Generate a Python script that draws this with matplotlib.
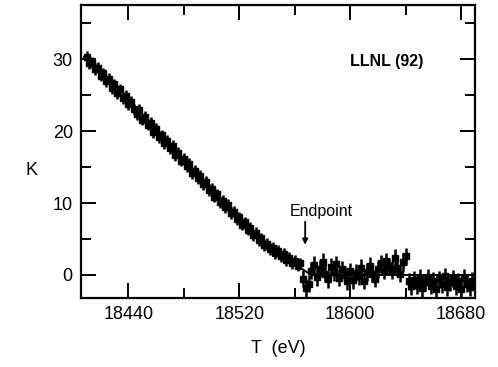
import matplotlib.pyplot as plt
from matplotlib.ticker import FixedLocator

plt.rcParams['font.family'] = ['Liberation Sans', 'DejaVu Sans']

# measured points below the endpoint (T in eV, 2 eV steps)
t_slope = [18410, 18412, 18414, 18416, 18418, 18420, 18422, 18424, 18426, 18428,
           18430, 18432, 18434, 18436, 18438, 18440, 18442, 18444, 18446, 18448,
           18450, 18452, 18454, 18456, 18458, 18460, 18462, 18464, 18466, 18468,
           18470, 18472, 18474, 18476, 18478, 18480, 18482, 18484, 18486, 18488,
           18490, 18492, 18494, 18496, 18498, 18500, 18502, 18504, 18506, 18508,
           18510, 18512, 18514, 18516, 18518, 18520, 18522, 18524, 18526, 18528,
           18530, 18532, 18534, 18536, 18538, 18540, 18542, 18544, 18546, 18548,
           18550, 18552, 18554, 18556, 18558, 18560, 18562, 18564]
k_slope = [30.3, 29.4, 29.5, 28.6, 28.8, 27.7, 28.0, 26.9, 27.3, 26.0,
           26.5, 25.3, 25.8, 24.6, 24.9, 23.7, 24.1, 23.0, 22.4, 22.9,
           21.6, 22.0, 20.9, 21.1, 19.9, 20.3, 19.2, 19.4, 18.3, 18.6,
           17.6, 17.9, 16.7, 17.0, 15.9, 16.1, 15.1, 15.4, 14.2, 14.5,
           13.5, 13.8, 12.6, 12.9, 11.8, 12.0, 10.9, 11.2, 10.1, 10.3,
           9.4, 9.7, 8.6, 8.8, 7.8, 8.0, 7.0, 7.3, 6.3, 6.5,
           5.5, 5.9, 4.8, 5.1, 4.2, 4.3, 3.6, 3.8, 3.0, 3.3,
           2.6, 2.9, 2.1, 2.4, 1.7, 2.0, 1.3, 1.6]

# measured points above the endpoint
t_tail = [18566, 18568, 18570, 18572, 18574, 18576, 18578, 18580, 18582, 18584,
          18586, 18588, 18590, 18592, 18594, 18596, 18598, 18600, 18602, 18604,
          18606, 18608, 18610, 18612, 18614, 18616, 18618, 18620, 18622, 18624,
          18626, 18628, 18630, 18632, 18634, 18636, 18638, 18640, 18642, 18644,
          18646, 18648, 18650, 18652, 18654, 18656, 18658, 18660, 18662, 18664,
          18666, 18668, 18670, 18672, 18674, 18676, 18678, 18680, 18682, 18684,
          18686, 18688]
k_tail = [-0.5, -1.8, -1.2, 0.6, 1.4, -0.3, 0.9, 1.8, 0.2, -0.6,
          1.1, 0.4, 1.5, -0.4, 0.8, 0.0, -0.9, 0.5, -0.7, 0.3,
          -0.2, 1.0, -0.8, 0.4, 1.3, 0.2, -0.5, 0.8, 1.6, 0.6,
          1.9, 1.2, 0.7, 2.4, 1.0, 0.2, 1.8, 2.6, -0.9, -1.6,
          -0.7, -1.4, -0.4, -1.8, -1.0, -0.3, -1.5, -0.8, -1.9, -0.6,
          -1.3, -0.2, -1.7, -1.0, -0.5, -1.6, -0.9, -2.0, -0.4, -1.2,
          -1.7, -0.8]

err_slope = 0.8
err_tail = 1.2

# fitted Kurie line
fit_t = [18408, 18520, 18540, 18556, 18572, 18690]
fit_k = [30.3, 7.6, 4.0, 2.0, 0.0, 0.0]

x_major = [18440, 18520, 18600, 18680]
x_minor = [18480, 18560, 18640]
y_major = [0, 10, 20, 30]
y_minor = [5, 15, 25, 35]

endpoint_t = 18567.5

fig = plt.figure(figsize=(4.98, 3.67), dpi=100)
ax = fig.add_axes([0.163, 0.188, 0.791, 0.798])

ax.plot(fit_t, fit_k, color='black', lw=1.4)
for t, k, e in [(t_slope, k_slope, err_slope), (t_tail, k_tail, err_tail)]:
    ax.errorbar(t, k, yerr=e, xerr=1.2, fmt='s', ms=4,
                color='black', ecolor='black', elinewidth=1.8, capsize=0)

ax.set_xlim(18406, 18690)
ax.set_ylim(-3.2, 37.5)
ax.xaxis.set_major_locator(FixedLocator(x_major))
ax.xaxis.set_minor_locator(FixedLocator(x_minor))
ax.yaxis.set_major_locator(FixedLocator(y_major))
ax.yaxis.set_minor_locator(FixedLocator(y_minor))
ax.tick_params(which='both', direction='in', top=True, right=True,
               labelsize=13, width=1.4, pad=6)
ax.tick_params(which='major', length=11)
ax.tick_params(which='minor', length=7)
for s in ax.spines.values():
    s.set_linewidth(1.6)

ax.set_xlabel('T  (eV)', fontsize=13)
ax.set_ylabel('K', fontsize=13, rotation=0, va='center')
ax.yaxis.set_label_coords(-0.127, 0.437)
ax.xaxis.set_label_coords(0.5, -0.145)

ax.text(18626, 29.7, 'LLNL (92)', fontsize=11.5, fontweight='bold',
        ha='center', va='center')
ax.text(18579, 8.8, 'Endpoint', fontsize=11.5, ha='center', va='center')
ax.annotate('', xy=(endpoint_t, 4.2), xytext=(endpoint_t, 7.4),
            arrowprops=dict(arrowstyle='-|>', color='black', lw=1.3,
                            mutation_scale=8, shrinkA=0, shrinkB=0))

fig.savefig('out.png', dpi=100)
